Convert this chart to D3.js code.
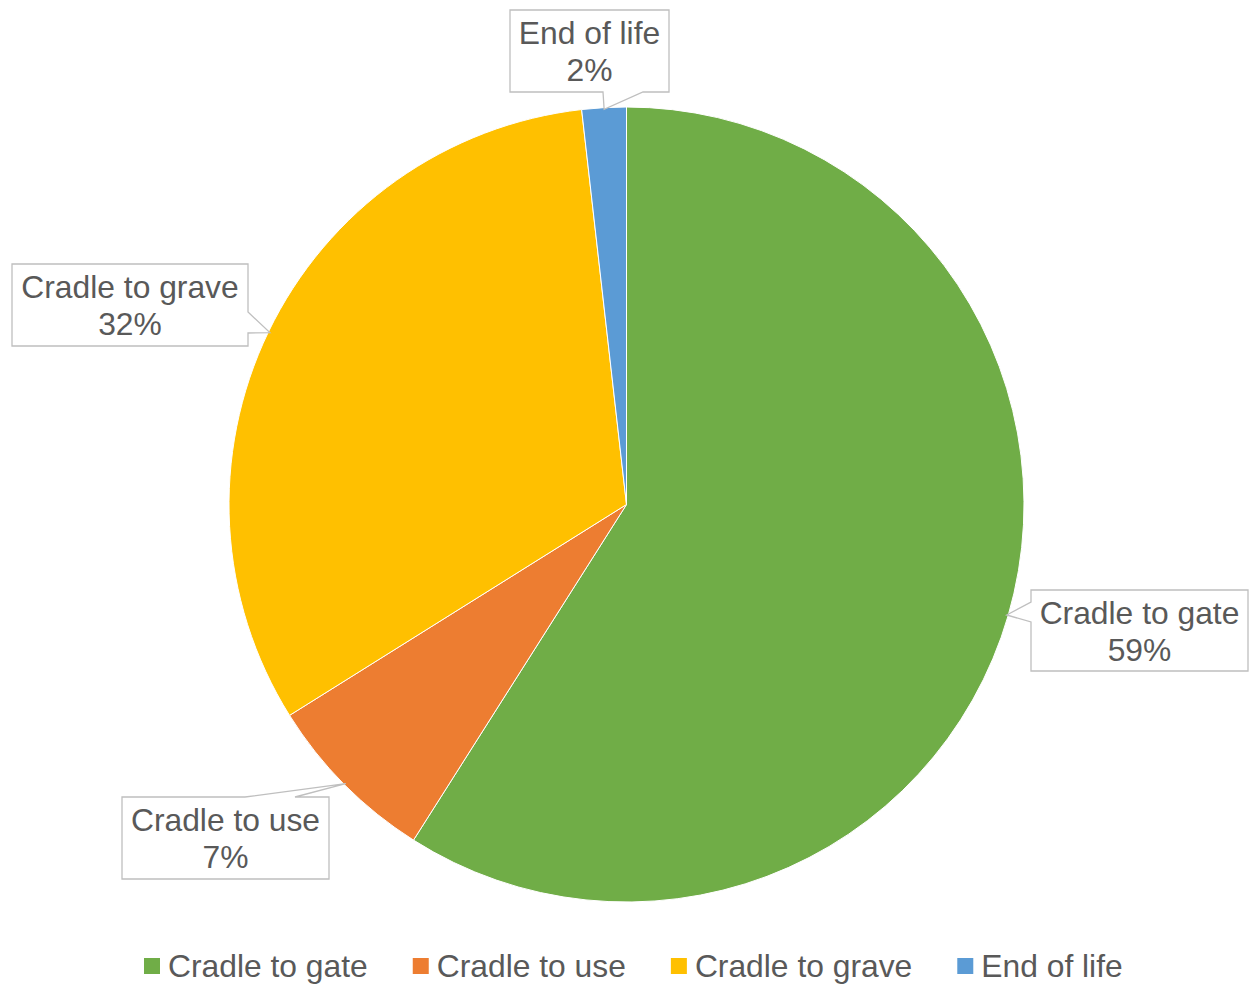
<!DOCTYPE html>
<html>
<head>
<meta charset="utf-8">
<script src="https://cdn.jsdelivr.net/npm/d3@7/dist/d3.min.js"></script>
<style>
  html, body { margin: 0; padding: 0; background: #fff; }
  svg { display: block; }
  svg text { font-family: "Liberation Sans", Arial, sans-serif; }
</style>
</head>
<body>
<svg id="chart" width="1249" height="984"></svg>
<script>
// Life-cycle stage shares (percent)
const categories = ["Cradle to gate", "Cradle to use", "Cradle to grave", "End of life"];
const values = [59.0, 7.1, 32.1, 1.8];
const labelTexts = ["59%", "7%", "32%", "2%"];
const colors = ["#70AD47", "#ED7D31", "#FFC000", "#5B9BD5"];

const svg = d3.select("#chart");
const cx = 626.5, cy = 504.5, radius = 397.5;
const textColor = "#595959";
const fontSize = 31.8;

const pie = d3.pie().sort(null).value(d => d.value);
const arcs = pie(categories.map((c, i) => ({ name: c, value: values[i], label: labelTexts[i], color: colors[i] })));
const arc = d3.arc().innerRadius(0).outerRadius(radius);

const g = svg.append("g").attr("transform", `translate(${cx},${cy})`);
g.selectAll("path.slice")
  .data(arcs)
  .join("path")
  .attr("class", "slice")
  .attr("d", arc)
  .attr("fill", d => d.data.color)
  .attr("stroke", "#fff")
  .attr("stroke-width", 1);

// Callout boxes: rectangle with a notch on one side pointing at the slice
const callouts = [
  { box: [1031, 590, 217, 81], side: "left",   notch: [602, 622] },
  { box: [122, 797, 207, 82],  side: "top",    notch: [245, 295] },
  { box: [12, 264, 236, 82],   side: "right",  notch: [312, 333] },
  { box: [510, 10, 159, 82],   side: "bottom", notch: [603, 643] }
];

function calloutPath(c, tip) {
  const [x, y, w, h] = c.box;
  const [a, b] = c.notch;
  const [tx, ty] = tip;
  const r = x + w, bt = y + h;
  switch (c.side) {
    case "left":
      return `M${x},${y}H${r}V${bt}H${x}V${b}L${tx},${ty}L${x},${a}Z`;
    case "right":
      return `M${x},${y}H${r}V${a}L${tx},${ty}L${r},${b}V${bt}H${x}Z`;
    case "top":
      return `M${x},${y}H${a}L${tx},${ty}L${b},${y}H${r}V${bt}H${x}Z`;
    case "bottom":
      return `M${x},${y}H${r}V${bt}H${b}L${tx},${ty}L${a},${bt}H${x}Z`;
  }
}

arcs.forEach((d, i) => {
  const c = callouts[i];
  const mid = (d.startAngle + d.endAngle) / 2;
  const rr = radius * 0.996;
  const tip = [cx + rr * Math.sin(mid), cy - rr * Math.cos(mid)];
  svg.append("path")
    .attr("d", calloutPath(c, tip))
    .attr("fill", "#fff")
    .attr("stroke", "#BFBFBF")
    .attr("stroke-width", 1.3);
  const [x, y, w, h] = c.box;
  const t = svg.append("text")
    .attr("text-anchor", "middle")
    .attr("fill", textColor)
    .attr("font-size", fontSize);
  t.append("tspan").attr("x", x + w / 2).attr("y", y + 34).text(d.data.name);
  t.append("tspan").attr("x", x + w / 2).attr("y", y + 71).text(d.data.label);
});

// Legend along the bottom
const legend = svg.append("g");
let lx = 144;
const ly = 977;
categories.forEach((name, i) => {
  legend.append("rect")
    .attr("x", lx).attr("y", ly - 19)
    .attr("width", 16).attr("height", 16)
    .attr("fill", colors[i]);
  const t = legend.append("text")
    .attr("x", lx + 24).attr("y", ly)
    .attr("fill", textColor)
    .attr("font-size", fontSize)
    .text(name);
  lx += 24 + t.node().getComputedTextLength() + 45;
});
</script>
</body>
</html>
